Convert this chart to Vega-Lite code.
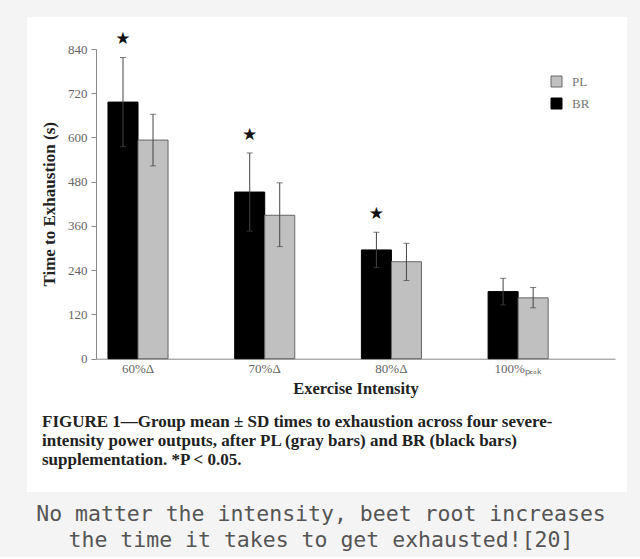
{
  "$schema": "https://vega.github.io/schema/vega-lite/v6.json",
  "background": "#f4f4f4",
  "padding": {"left": 27, "top": 17, "right": 13, "bottom": 5},
  "config": {"view": {"fill": "white", "stroke": null}},
  "title": {
    "text": ["No matter the intensity, beet root increases", "the time it takes to get exhausted![20]"],
    "orient": "bottom", "anchor": "middle", "frame": "group",
    "font": "DejaVu Sans Mono", "fontSize": 21.5, "fontWeight": "normal", "color": "#555555",
    "lineHeight": 26, "offset": 12, "dx": -6, "baseline": "top"
  },
  "vconcat": [
    {
      "width": 600,
      "height": 475,
      "title": {
        "text": ["FIGURE 1—Group mean ± SD times to exhaustion across four severe-", "intensity power outputs, after PL (gray bars) and BR (black bars)", "supplementation. *P < 0.05."],
        "orient": "bottom", "anchor": "start", "frame": "group", "offset": -78, "dx": 15, "baseline": "top",
        "font": "Liberation Serif", "fontSize": 17, "fontWeight": "bold", "color": "#222222", "lineHeight": 19
      },
      "data": {
        "values": [
          {"intensity": "60%Δ", "group": "BR", "mean": 696, "low": 575, "high": 817, "sig": 1},
          {"intensity": "60%Δ", "group": "PL", "mean": 593, "low": 523, "high": 663, "sig": 0},
          {"intensity": "70%Δ", "group": "BR", "mean": 452, "low": 346, "high": 558, "sig": 1},
          {"intensity": "70%Δ", "group": "PL", "mean": 389, "low": 304, "high": 477, "sig": 0},
          {"intensity": "80%Δ", "group": "BR", "mean": 295, "low": 247, "high": 343, "sig": 1},
          {"intensity": "80%Δ", "group": "PL", "mean": 263, "low": 212, "high": 313, "sig": 0},
          {"intensity": "100%ₚₑₐₖ", "group": "BR", "mean": 182, "low": 146, "high": 218, "sig": 0},
          {"intensity": "100%ₚₑₐₖ", "group": "PL", "mean": 165, "low": 138, "high": 193, "sig": 0}
        ]
      },
      "encoding": {
        "x": {
          "field": "intensity", "type": "nominal",
          "sort": ["60%Δ", "70%Δ", "80%Δ", "100%ₚₑₐₖ"],
          "scale": {"range": [69, 588], "paddingInner": 0.526, "paddingOuter": 0.311, "align": 0.152},
          "axis": {
            "title": "Exercise Intensity", "orient": "bottom", "offset": -133.3, "ticks": false,
            "domainColor": "#888888", "labelFont": "Liberation Serif", "labelFontSize": 13,
            "labelColor": "#666666", "labelPadding": 4, "labelAngle": 0,
            "titleFont": "Liberation Serif", "titleFontSize": 16.5, "titleFontWeight": "bold",
            "titleColor": "#222222", "titlePadding": 5, "grid": false
          }
        },
        "xOffset": {"field": "group", "type": "nominal", "sort": ["BR", "PL"], "scale": {"paddingInner": 0, "paddingOuter": 0}}
      },
      "layer": [
        {
          "mark": {"type": "bar", "strokeWidth": 1},
          "encoding": {
            "y": {
              "field": "mean", "type": "quantitative", "title": "Time to Exhaustion (s)",
              "scale": {"domain": [0, 840], "range": [341.7, 32], "nice": false},
              "axis": {
                "offset": -69, "values": [0, 120, 240, 360, 480, 600, 720, 840],
                "tickSize": 5, "tickColor": "#888888", "domainColor": "#888888",
                "labelFont": "Liberation Serif", "labelFontSize": 13, "labelColor": "#666666", "labelPadding": 4,
                "titleFont": "Liberation Serif", "titleFontSize": 17, "titleFontWeight": "bold",
                "titleColor": "#222222", "titlePadding": 9, "grid": false
              }
            },
            "color": {
              "field": "group", "type": "nominal",
              "scale": {"domain": ["PL", "BR"], "range": ["#c0c0c0", "#000000"]},
              "legend": {
                "orient": "none", "legendX": 523, "legendY": 58, "title": null,
                "symbolType": "square", "symbolSize": 121, "labelFont": "Liberation Serif",
                "labelFontSize": 13, "labelColor": "#777777", "labelOffset": 9, "rowPadding": 7,
                "symbolStrokeColor": "#666666", "symbolStrokeWidth": 1, "padding": 0
              }
            },
            "stroke": {
              "field": "group", "type": "nominal",
              "scale": {"domain": ["PL", "BR"], "range": ["#666666", "#000000"]},
              "legend": null
            }
          }
        },
        {
          "mark": {"type": "rule", "color": "#444444", "strokeWidth": 1},
          "encoding": {
            "y": {"field": "low", "type": "quantitative", "title": "Time to Exhaustion (s)"},
            "y2": {"field": "high"}
          }
        },
        {
          "mark": {"type": "tick", "color": "#444444", "thickness": 1, "size": 6},
          "encoding": {
            "y": {"field": "high", "type": "quantitative", "title": "Time to Exhaustion (s)"}
          }
        },
        {
          "mark": {"type": "tick", "color": "#444444", "thickness": 1, "size": 6},
          "encoding": {
            "y": {"field": "low", "type": "quantitative", "title": "Time to Exhaustion (s)"}
          }
        },
        {
          "transform": [{"filter": "datum.sig == 1"}],
          "mark": {"type": "text", "text": "★", "font": "DejaVu Sans", "fontSize": 17, "color": "#111111", "dy": -18, "baseline": "middle"},
          "encoding": {
            "y": {"field": "high", "type": "quantitative", "title": "Time to Exhaustion (s)"}
          }
        }
      ]
    }
  ]
}
